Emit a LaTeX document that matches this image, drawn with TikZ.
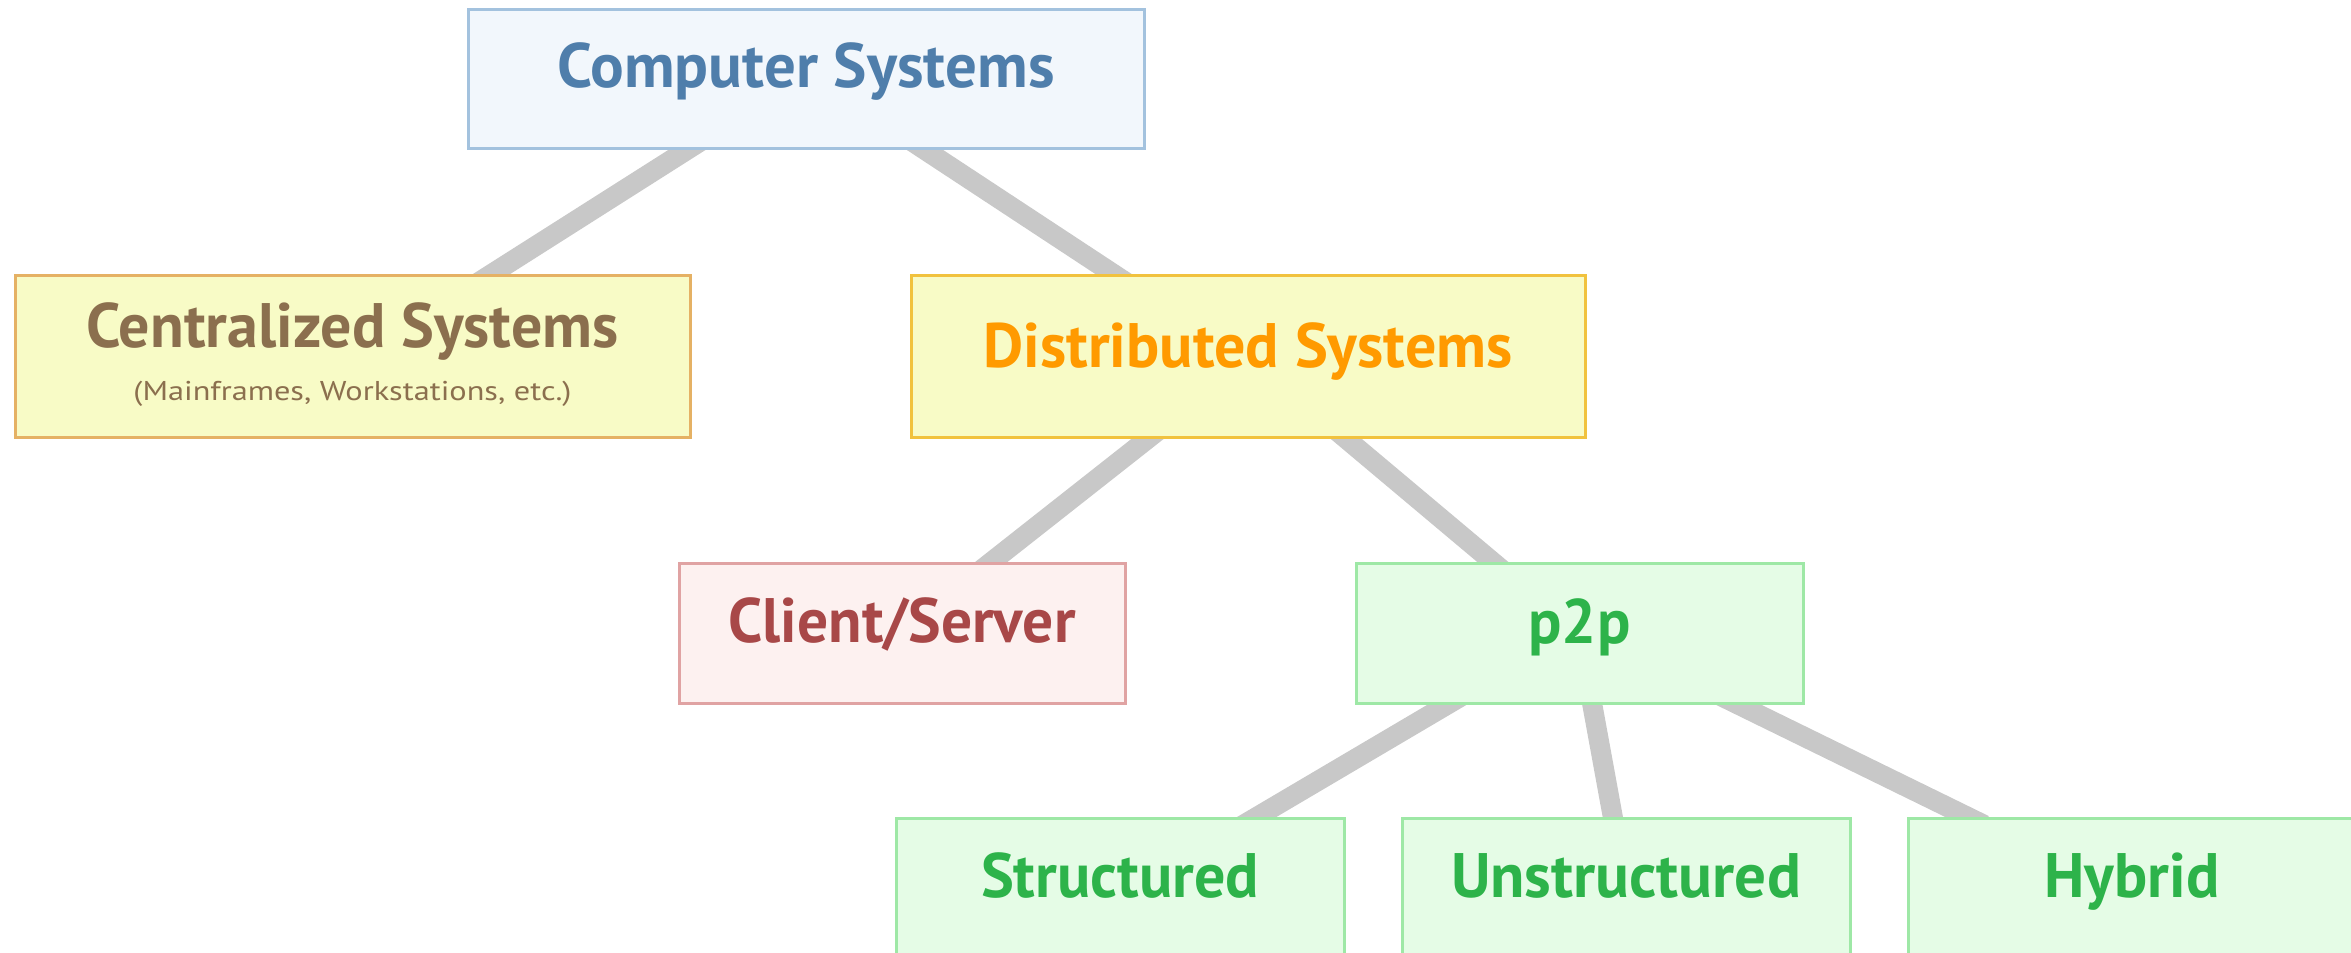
\documentclass[tikz,border=0pt]{standalone}
\usepackage{fontspec}
\setmainfont{PT Sans}
\usetikzlibrary{backgrounds}

% palette
\definecolor{csfill}{HTML}{F2F7FC}
\definecolor{csline}{HTML}{A3C2DE}
\definecolor{cstext}{HTML}{4F7EAB}
\definecolor{yfill}{HTML}{F8FBC6}
\definecolor{cenline}{HTML}{E5B164}
\definecolor{centext}{HTML}{8B6F4E}
\definecolor{disline}{HTML}{F1C23E}
\definecolor{distext}{HTML}{FF9A00}
\definecolor{clifill}{HTML}{FDF1F0}
\definecolor{cliline}{HTML}{E0A3A3}
\definecolor{clitext}{HTML}{A84848}
\definecolor{gfill}{HTML}{E5FCE6}
\definecolor{gline}{HTML}{9EE8A6}
\definecolor{gtext}{HTML}{2DB34A}
\definecolor{linkgray}{HTML}{C8C8C8}

% one drawing unit = 0.5pt
\newlength\pxu
\setlength\pxu{0.5pt}
% stretch a label horizontally to a given width (in drawing units)
\newcommand\fitw[2]{\resizebox{#1\pxu}{\height}{#2}}

\tikzset{
  box/.style={rectangle, inner sep=0pt, outer sep=0pt, anchor=north west, line width=1.5pt},
  boxsize/.style 2 args={minimum width=#1*0.5pt, minimum height=#2*0.5pt},
  title/.style={anchor=base, inner sep=0pt, font=\fontsize{31.4pt}{36pt}\selectfont\bfseries},
  subtitle/.style={anchor=base, inner sep=0pt, font=\fontsize{13.6pt}{16pt}\selectfont},
  link/.style={draw=linkgray, line width=10pt, line cap=butt, shorten <=-8pt, shorten >=-8pt},
}

\begin{document}
\begin{tikzpicture}[x=0.5pt, y=-0.5pt]
\useasboundingbox (0,0) rectangle (2351,953);
\clip (0,0) rectangle (2351,953);

% boxes
\node[box, boxsize={676}{139}, fill=csfill, draw=csline]  (cs)  at (468,9)   {};
\node[box, boxsize={675}{162}, fill=yfill, draw=cenline]  (cen) at (15,275)  {};
\node[box, boxsize={674}{162}, fill=yfill, draw=disline]  (dis) at (911,275) {};
\node[box, boxsize={446}{140}, fill=clifill, draw=cliline] (cli) at (679,563) {};
\node[box, boxsize={447}{140}, fill=gfill, draw=gline]    (p2p) at (1356,563) {};
\node[box, boxsize={448}{180}, fill=gfill, draw=gline]    (str) at (896,818)  {};
\node[box, boxsize={448}{180}, fill=gfill, draw=gline]    (uns) at (1402,818) {};
\node[box, boxsize={448}{180}, fill=gfill, draw=gline]    (hyb) at (1908,818) {};

% connectors, behind the boxes
\begin{scope}[on background layer]
\draw[link] ([xshift=222*0.5pt]cs.south west)  -- ([xshift=475*0.5pt]cen.north west);
\draw[link] ([xshift=454*0.5pt]cs.south west)  -- ([xshift=204*0.5pt]dis.north west);
\draw[link] ([xshift=239*0.5pt]dis.south west) -- ([xshift=311*0.5pt]cli.north west);
\draw[link] ([xshift=433*0.5pt]dis.south west) -- ([xshift=138*0.5pt]p2p.north west);
\draw[link] ([xshift=94*0.5pt]p2p.south west)  -- ([xshift=359*0.5pt]str.north west);
\draw[link] ([xshift=236*0.5pt]p2p.south west) -- ([xshift=211*0.5pt]uns.north west);
\draw[link] ([xshift=379*0.5pt]p2p.south west) -- ([xshift=62*0.5pt]hyb.north west);
\end{scope}

% labels
\node[title, text=cstext]  (cs-t)  at ([yshift=-78*0.5pt]cs.north)  {\fitw{497}{Computer Systems}};
\node[title, text=centext] (cen-t) at ([yshift=-72*0.5pt]cen.north) {\fitw{532}{Centralized Systems}};
\node[subtitle, text=centext] (cen-s) at ([yshift=-125*0.5pt]cen.north) {\fitw{438}{(Mainframes, Workstations, etc.)}};
\node[title, text=distext] (dis-t) at ([yshift=-92*0.5pt]dis.north) {\fitw{529}{Distributed Systems}};
\node[title, text=clitext] (cli-t) at ([yshift=-79*0.5pt]cli.north) {\fitw{347}{Client/Server}};
\node[title, text=gtext]   (p2p-t) at ([yshift=-80*0.5pt]p2p.north) {\fitw{102}{p2p}};
\node[title, text=gtext]   (str-t) at ([yshift=-79*0.5pt]str.north) {\fitw{278}{Structured}};
\node[title, text=gtext]   (uns-t) at ([yshift=-79*0.5pt]uns.north) {\fitw{350}{Unstructured}};
\node[title, text=gtext]   (hyb-t) at ([yshift=-79*0.5pt]hyb.north) {\fitw{175}{Hybrid}};
\end{tikzpicture}
\end{document}
